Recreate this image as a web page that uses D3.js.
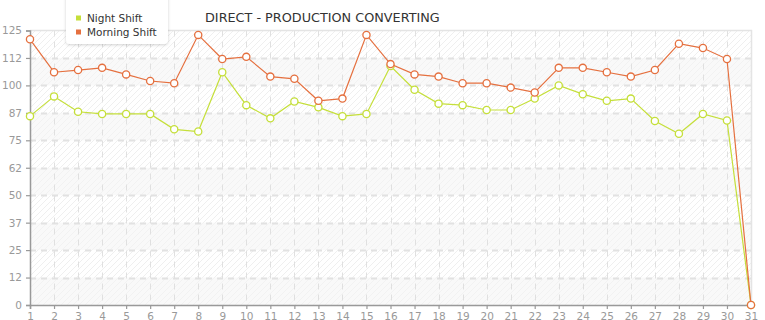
<!DOCTYPE html>
<html>
<head>
<meta charset="utf-8">
<script src="https://cdn.jsdelivr.net/npm/d3@7"></script>
<style>
  body { margin: 0; background: #fff; }
  svg { display: block; font-family: "DejaVu Sans", Verdana, sans-serif; }
</style>
</head>
<body>
<svg id="chart" width="765" height="320"></svg>
<script>
const days = d3.range(1, 32).map(String);
const nightShift = [86, 95, 88, 87, 87, 87, 80, 79, 106, 91, 85, 92.7, 90, 86, 87, 108.8,
  98, 91.7, 91, 88.8, 88.8, 94, 100, 96, 93, 94, 83.8, 78, 87, 84, 0];
const morningShift = [121, 106, 107, 108, 105, 102, 101, 123, 112, 113, 104, 103, 93, 94, 123, 109.7,
  105, 104, 101, 101, 99, 96.8, 108, 108, 106, 104, 107, 119, 117, 112, 0];
const yTickValues = [0, 12.5, 25, 37.5, 50, 62.5, 75, 87.5, 100, 112.5, 125];
const yTickLabels = ["0", "12", "25", "37", "50", "62", "75", "87", "100", "112", "125"];
const seriesNames = ["Night Shift", "Morning Shift"];
const title = "DIRECT - PRODUCTION CONVERTING";

const colors = { night: "#c5df3a", morning: "#e5703f" };
const plotL = 30, plotR = 751, plotT = 30.5, plotB = 305;

const svg = d3.select("#chart");

const x = d3.scalePoint().domain(days).range([plotL, plotR]);
const y = d3.scaleLinear().domain([0, 125]).range([plotB, plotT]);

// hatch pattern for plot background
const defs = svg.append("defs");
const pat = defs.append("pattern")
  .attr("id", "hatch")
  .attr("patternUnits", "userSpaceOnUse")
  .attr("width", 6).attr("height", 6);
pat.append("rect").attr("width", 6).attr("height", 6).attr("fill", "#fff");
pat.append("path").attr("d", "M-1,1 l2,-2 M0,6 l6,-6 M5,7 l2,-2")
  .attr("stroke", "#efefef").attr("stroke-width", 1);

svg.append("rect")
  .attr("x", plotL).attr("y", plotT)
  .attr("width", plotR - plotL).attr("height", plotB - plotT)
  .attr("fill", "url(#hatch)");

// alternating bands
const bands = d3.pairs(yTickValues).filter((d, i) => i % 2 === 0);
svg.append("g").selectAll("rect")
  .data(bands)
  .enter().append("rect")
  .attr("x", plotL).attr("width", plotR - plotL)
  .attr("y", d => y(d[1])).attr("height", d => y(d[0]) - y(d[1]))
  .attr("fill", "#f4f4f4").attr("opacity", 0.55);

// grid
svg.append("g").selectAll("line")
  .data(yTickValues.slice(1, -1))
  .enter().append("line")
  .attr("x1", plotL).attr("x2", plotR)
  .attr("y1", d => Math.round(y(d)) + 0.5).attr("y2", d => Math.round(y(d)) + 0.5)
  .attr("stroke", "#e2e2e2").attr("stroke-width", 2).attr("stroke-dasharray", "6,5");

svg.append("g").selectAll("line")
  .data(days.slice(1, -1))
  .enter().append("line")
  .attr("x1", d => Math.round(x(d)) + 0.5).attr("x2", d => Math.round(x(d)) + 0.5)
  .attr("y1", plotT).attr("y2", plotB)
  .attr("stroke", "#e0e0e0").attr("stroke-width", 1).attr("stroke-dasharray", "6,5");

// frame top/right
svg.append("path")
  .attr("d", `M${plotL},${Math.round(plotT) - 0.5}H${plotR + 0.5}V${plotB}`)
  .attr("fill", "none").attr("stroke", "#e4e4e4").attr("stroke-width", 1.5);

// axes
const yAxis = svg.append("g")
  .attr("transform", `translate(${plotL},0)`)
  .call(d3.axisLeft(y).tickValues(yTickValues)
    .tickFormat((d, i) => yTickLabels[i]).tickSize(4).tickPadding(4));
const xAxis = svg.append("g")
  .attr("transform", `translate(0,${plotB})`)
  .call(d3.axisBottom(x).tickSize(4).tickPadding(4));

[yAxis, xAxis].forEach(g => {
  g.select(".domain").attr("stroke", "#999").attr("stroke-width", 1.5);
  g.selectAll(".tick line").attr("stroke", "#999").attr("stroke-width", 1.2);
  g.selectAll(".tick text").attr("fill", "#999")
    .style("font-family", "DejaVu Sans, Verdana, sans-serif").style("font-size", "10.5px");
});

// series
const series = [
  { name: seriesNames[0], values: nightShift, color: colors.night },
  { name: seriesNames[1], values: morningShift, color: colors.morning }
];

const line = d3.line()
  .x((d, i) => x(days[i]))
  .y(d => y(d));

series.forEach(s => {
  svg.append("path")
    .datum(s.values)
    .attr("fill", "none")
    .attr("stroke", s.color)
    .attr("stroke-width", 1.2)
    .attr("d", line);
  svg.append("g").selectAll("circle")
    .data(s.values)
    .enter().append("circle")
    .attr("cx", (d, i) => x(days[i]))
    .attr("cy", d => y(d))
    .attr("r", 3.6)
    .attr("fill", "#fff")
    .attr("stroke", s.color)
    .attr("stroke-width", 1.3);
});

// title
svg.append("text")
  .attr("x", 205).attr("y", 22)
  .attr("fill", "#333")
  .style("font-size", "12.8px")
  .text(title);

// legend
const legend = svg.append("g");
defs.append("filter").attr("id", "shadow")
  .attr("x", "-20%").attr("y", "-20%").attr("width", "140%").attr("height", "150%")
  .append("feDropShadow")
  .attr("dx", 0).attr("dy", 1).attr("stdDeviation", 1.5)
  .attr("flood-color", "#000").attr("flood-opacity", 0.18);
legend.append("rect")
  .attr("x", 66).attr("y", -6).attr("width", 102).attr("height", 50)
  .attr("rx", 4)
  .attr("fill", "#fff")
  .attr("filter", "url(#shadow)");
const items = legend.selectAll("g.item")
  .data(series)
  .enter().append("g")
  .attr("transform", (d, i) => `translate(76,${18 + i * 14})`);
items.append("rect")
  .attr("x", 0).attr("y", -2.5).attr("width", 5).attr("height", 5)
  .attr("fill", d => d.color);
items.append("text")
  .attr("x", 11).attr("y", 4)
  .attr("fill", "#333")
  .style("font-size", "10.5px")
  .text(d => d.name);
</script>
</body>
</html>
